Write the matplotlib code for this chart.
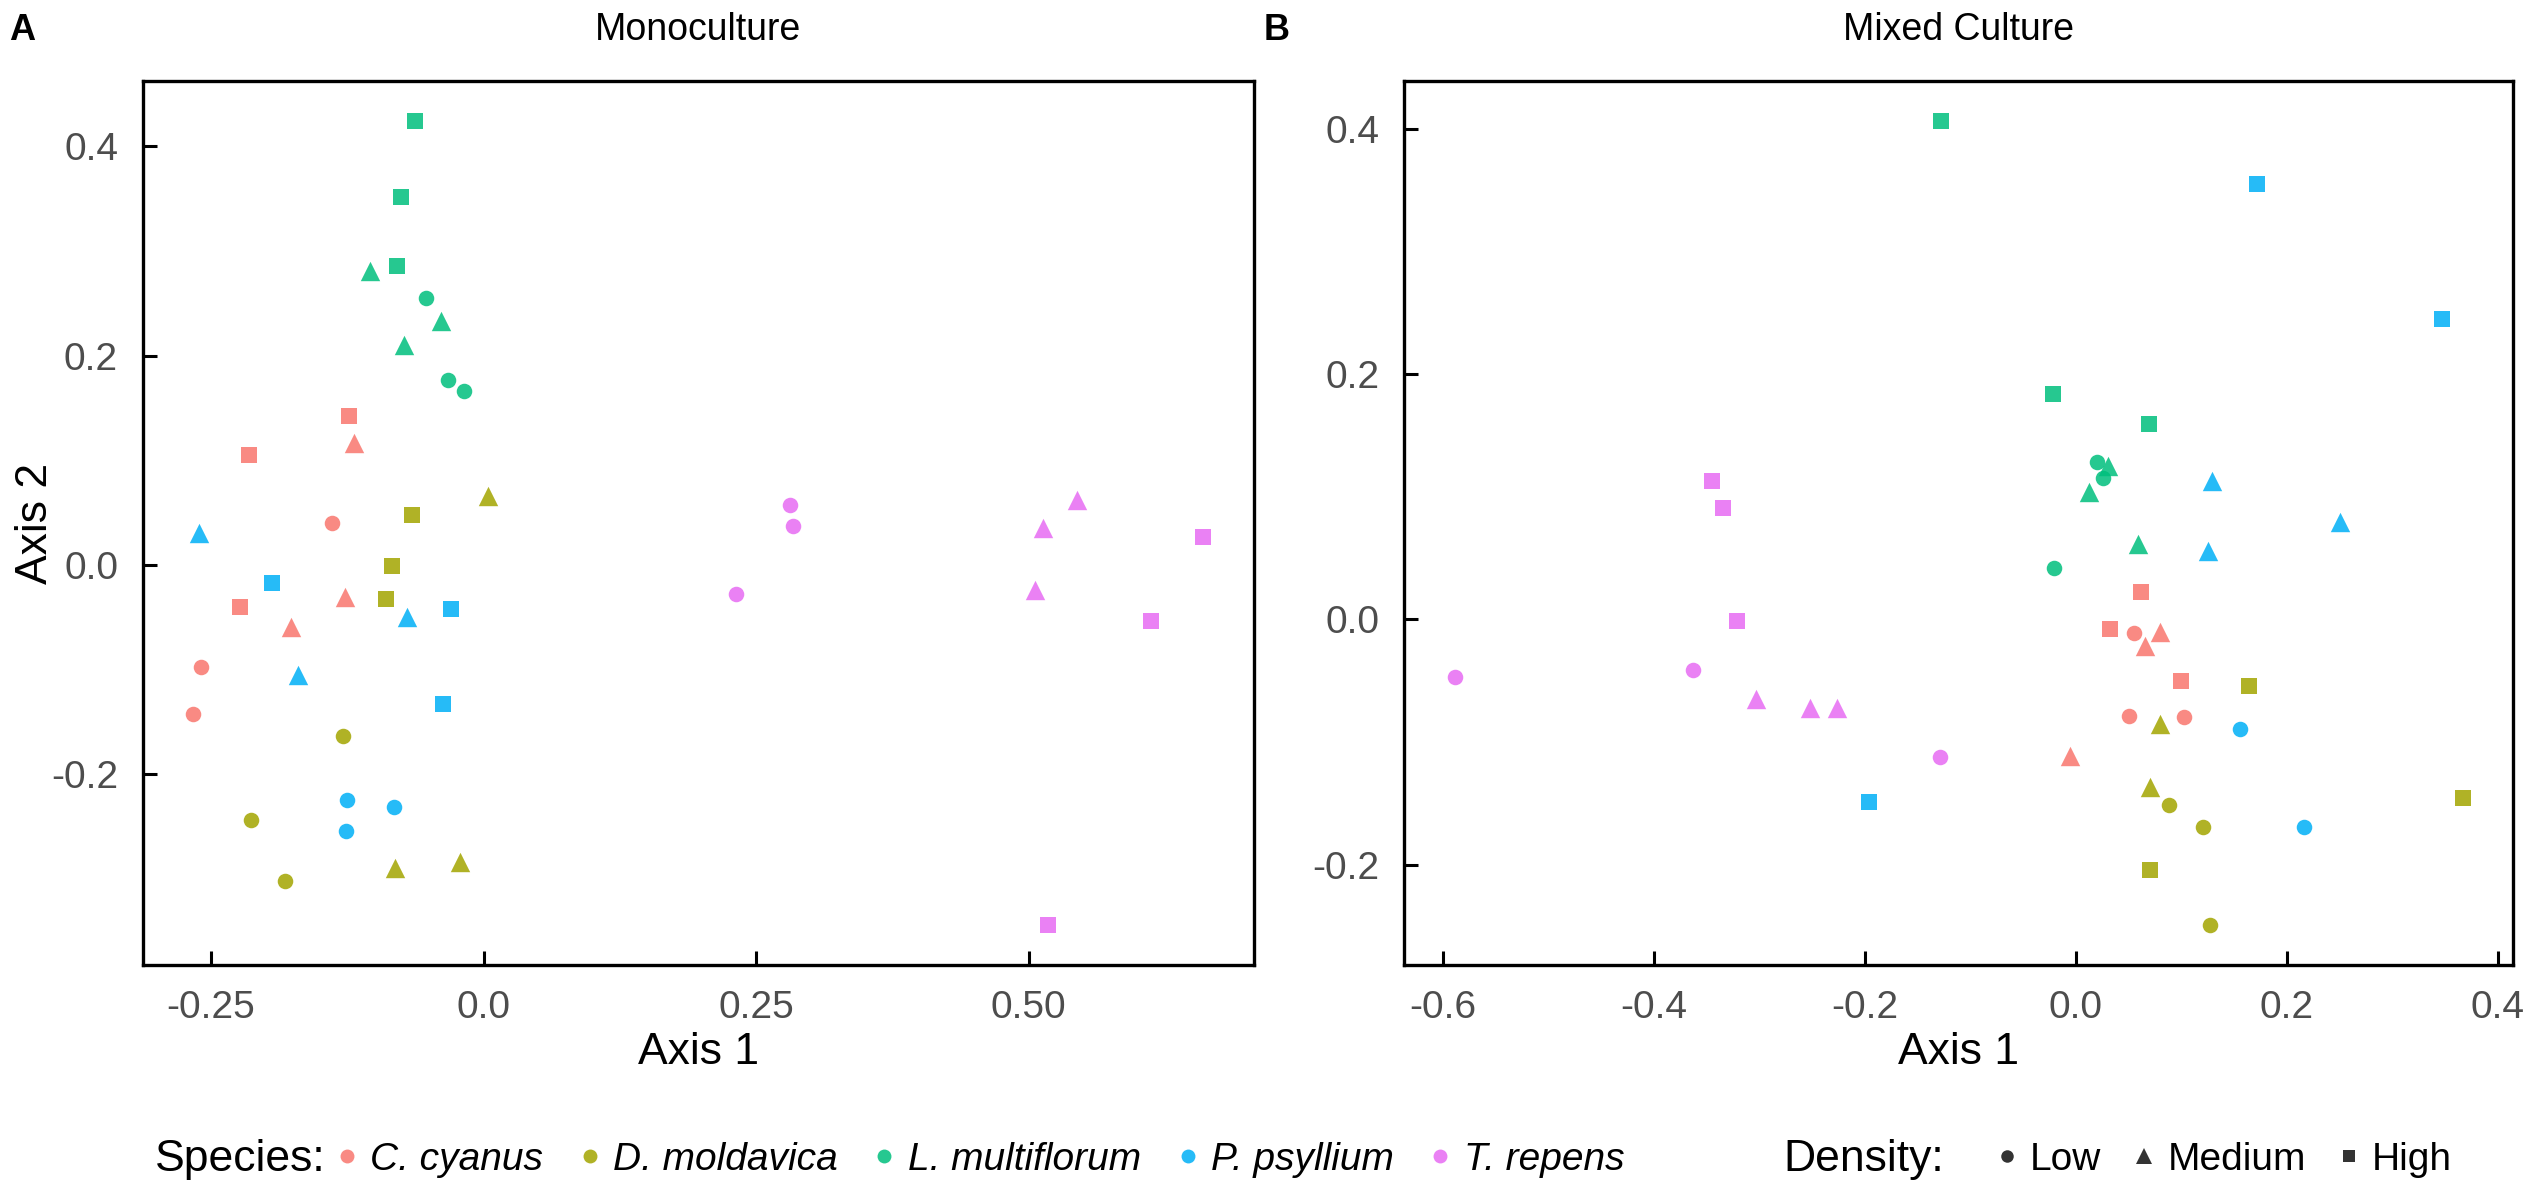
import matplotlib
matplotlib.use("Agg")
import matplotlib.pyplot as plt
from matplotlib.lines import Line2D

plt.rcParams['font.family'] = ['Liberation Sans', 'DejaVu Sans']

species_names = ['C. cyanus', 'D. moldavica', 'L. multiflorum', 'P. psyllium', 'T. repens']
species_colors = ['#F8766D', '#A3A500', '#00BF7D', '#00B0F6', '#E76BF3']
density_names = ['Low', 'Medium', 'High']
density_markers = ['o', '^', 's']

# ---- Panel A: Monoculture ----
mono_species = (['C. cyanus'] * 9 + ['D. moldavica'] * 9 + ['L. multiflorum'] * 9
                + ['P. psyllium'] * 9 + ['T. repens'] * 9)
mono_density = (['High'] * 3 + ['Medium'] * 3 + ['Low'] * 3) * 5
mono_axis1 = [-0.123, -0.215, -0.223, -0.119, -0.127, -0.177, -0.139, -0.259, -0.266,
              -0.066, -0.084, -0.089, 0.004, -0.081, -0.022, -0.129, -0.213, -0.182,
              -0.063, -0.076, -0.079, -0.104, -0.039, -0.073, -0.053, -0.033, -0.018,
              -0.194, -0.030, -0.037, -0.261, -0.070, -0.170, -0.125, -0.082, -0.126,
              0.660, 0.612, 0.518, 0.544, 0.513, 0.506, 0.232, 0.281, 0.284]
mono_axis2 = [0.142, 0.105, -0.040, 0.116, -0.031, -0.059, 0.040, -0.098, -0.143,
              0.048, -0.001, -0.033, 0.066, -0.290, -0.284, -0.164, -0.244, -0.302,
              0.424, 0.352, 0.286, 0.281, 0.233, 0.210, 0.255, 0.177, 0.166,
              -0.017, -0.042, -0.133, 0.030, -0.050, -0.105, -0.225, -0.231, -0.254,
              0.027, -0.054, -0.344, 0.062, 0.035, -0.024, -0.028, 0.057, 0.037]

# ---- Panel B: Mixed Culture ----
mixed_species = (['C. cyanus'] * 9 + ['D. moldavica'] * 8 + ['L. multiflorum'] * 9
                 + ['P. psyllium'] * 8 + ['T. repens'] * 9)
mixed_density = (['High'] * 3 + ['Medium'] * 3 + ['Low'] * 3
                 + ['High'] * 3 + ['Medium'] * 2 + ['Low'] * 3
                 + ['High'] * 3 + ['Medium'] * 3 + ['Low'] * 3
                 + ['High'] * 3 + ['Medium'] * 3 + ['Low'] * 2
                 + ['High'] * 3 + ['Medium'] * 3 + ['Low'] * 3)
mixed_axis1 = [0.062, 0.032, 0.100, 0.080, 0.065, -0.006, 0.055, 0.050, 0.102,
               0.164, 0.367, 0.070, 0.080, 0.070, 0.088, 0.120, 0.127,
               -0.128, -0.022, 0.069, 0.030, 0.012, 0.059, 0.020, 0.026, -0.021,
               0.172, 0.347, -0.196, 0.129, 0.125, 0.250, 0.156, 0.216,
               -0.345, -0.335, -0.321, -0.303, -0.252, -0.227, -0.589, -0.363, -0.129]
mixed_axis2 = [0.022, -0.008, -0.050, -0.010, -0.022, -0.111, -0.011, -0.079, -0.080,
               -0.054, -0.146, -0.204, -0.085, -0.137, -0.151, -0.169, -0.249,
               0.406, 0.184, 0.159, 0.125, 0.104, 0.061, 0.128, 0.115, 0.042,
               0.355, 0.245, -0.149, 0.113, 0.056, 0.079, -0.089, -0.169,
               0.113, 0.091, -0.001, -0.065, -0.072, -0.072, -0.047, -0.041, -0.112]

mono_xticks = [-0.25, 0.0, 0.25, 0.50]
mono_xticklabels = ['-0.25', '0.0', '0.25', '0.50']
mixed_xticks = [-0.6, -0.4, -0.2, 0.0, 0.2, 0.4]
mixed_xticklabels = ['-0.6', '-0.4', '-0.2', '0.0', '0.2', '0.4']
yticks = [-0.2, 0.0, 0.2, 0.4]
yticklabels = ['-0.2', '0.0', '0.2', '0.4']

W, H = 2534, 1190
fig = plt.figure(figsize=(W / 100, H / 100), dpi=100)
fig.patch.set_facecolor('white')

axA = fig.add_axes([143 / W, 1 - 965 / H, (1253.6 - 143) / W, (965 - 81) / H])
axB = fig.add_axes([1404.4 / W, 1 - 965 / H, (2513.4 - 1404.4) / W, (965 - 81) / H])

msize = {'o': 125, 's': 120, '^': 195}


def draw(ax, sp, dens, xs, ys):
    for s_name, col in zip(species_names, species_colors):
        for d_name, mk in zip(density_names, density_markers):
            px = [x for x, s, d in zip(xs, sp, dens) if s == s_name and d == d_name]
            py = [y for y, s, d in zip(ys, sp, dens) if s == s_name and d == d_name]
            if px:
                ax.scatter(px, py, s=msize[mk], marker=mk, color=col, alpha=0.85,
                           linewidths=0, zorder=3)
    ax.margins(0.05)
    for sp_ in ax.spines.values():
        sp_.set_linewidth(2.4)
        sp_.set_color('black')
    ax.tick_params(direction='in', length=10, width=2.2, colors='black',
                   labelcolor='#4D4D4D', labelsize=28, pad=18)


draw(axA, mono_species, mono_density, mono_axis1, mono_axis2)
draw(axB, mixed_species, mixed_density, mixed_axis1, mixed_axis2)

axA.set_xticks(mono_xticks)
axA.set_xticklabels(mono_xticklabels)
axB.set_xticks(mixed_xticks)
axB.set_xticklabels(mixed_xticklabels)
for ax in (axA, axB):
    ax.set_yticks(yticks)
    ax.set_yticklabels(yticklabels)
    ax.set_xlabel('Axis 1', fontsize=32, labelpad=4)

axA.set_ylabel('Axis 2', fontsize=32)
axA.yaxis.set_label_coords(-0.078, 0.5)

fig.text((143 + 1253.6) / 2 / W, 1 - 30 / H, 'Monoculture', fontsize=27,
         ha='center', va='center')
fig.text((1404.4 + 2513.4) / 2 / W, 1 - 30 / H, 'Mixed Culture', fontsize=27,
         ha='center', va='center')
fig.text(22 / W, 1 - 30 / H, 'A', fontsize=26, fontweight='bold', ha='center', va='center')
fig.text(1277 / W, 1 - 30 / H, 'B', fontsize=26, fontweight='bold', ha='center', va='center')

# ---- Legends ----
leg_y = 1 - 1160 / H
fig.text(155 / W, leg_y, 'Species:', fontsize=32, ha='left', va='center')
sp_handles = [Line2D([], [], marker='o', linestyle='', markersize=10, color=c,
                     alpha=0.85, markeredgewidth=0) for c in species_colors]
legS = fig.legend(sp_handles, species_names, loc='center left',
                  bbox_to_anchor=(335 / W, leg_y), ncol=5, frameon=False,
                  prop={'size': 28, 'style': 'italic'}, handlelength=0.6,
                  handletextpad=0.3, columnspacing=0.9, borderpad=0, borderaxespad=0)

fig.text(1783 / W, leg_y, 'Density:', fontsize=32, ha='left', va='center')
d_handles = [Line2D([], [], marker=m, linestyle='', markersize=11 if m == '^' else 9,
                    color='#333333', markeredgewidth=0) for m in density_markers]
legD = fig.legend(d_handles, density_names, loc='center left',
                  bbox_to_anchor=(1995 / W, leg_y), ncol=3, frameon=False,
                  prop={'size': 28}, handlelength=0.6, handletextpad=0.3,
                  columnspacing=0.8, borderpad=0, borderaxespad=0)

fig.savefig('out.png', dpi=100, facecolor='white')
